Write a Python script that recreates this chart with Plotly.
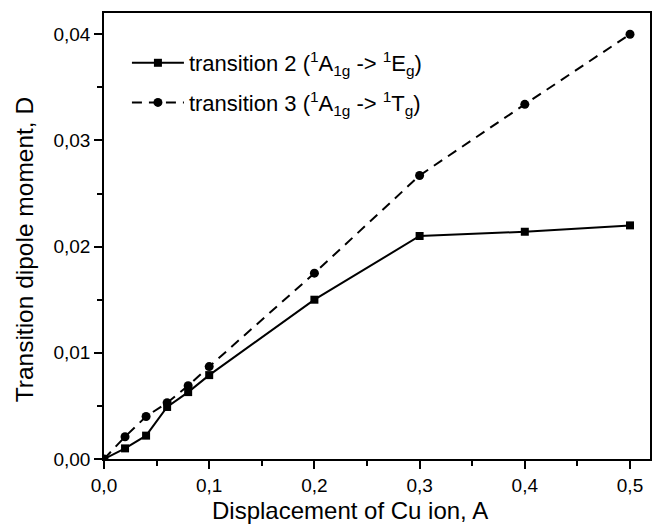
import plotly.graph_objects as go

x_vals = [0.0, 0.02, 0.04, 0.06, 0.08, 0.1, 0.2, 0.3, 0.4, 0.5]
t2_vals = [0.0, 0.0010, 0.0022, 0.0049, 0.0063, 0.0079, 0.0150, 0.0210, 0.0214, 0.0220]
t3_vals = [0.0, 0.0021, 0.0040, 0.0053, 0.0069, 0.0087, 0.0175, 0.0267, 0.0334, 0.0400]

name2 = "transition 2 (<sup>1</sup>A<sub>1g</sub> -> <sup>1</sup>E<sub>g</sub>)"
name3 = "transition 3 (<sup>1</sup>A<sub>1g</sub> -> <sup>1</sup>T<sub>g</sub>)"

FONT = "Liberation Sans, Arial"

fig = go.Figure()
fig.add_trace(go.Scatter(x=x_vals, y=t2_vals, mode="lines+markers", name=name2,
                         legendgroup="a",
                         line=dict(color="black", width=2),
                         marker=dict(symbol="square", size=8, color="black")))
fig.add_trace(go.Scatter(x=x_vals, y=t3_vals, mode="lines+markers", name=name3,
                         legendgroup="b",
                         line=dict(color="black", width=2, dash="10px,7px"),
                         marker=dict(symbol="circle", size=9, color="black")))

axis_common = dict(showline=True, linecolor="black", linewidth=1.6, mirror=True,
                   ticks="outside", tickcolor="black", tickwidth=1.5, ticklen=8,
                   showgrid=False, zeroline=False,
                   tickfont=dict(family=FONT, size=19, color="black"))

fig.update_xaxes(range=[0, 0.519], tick0=0, dtick=0.1, tickformat=".1f",
                 minor=dict(ticks="outside", dtick=0.05, ticklen=5, tickcolor="black", tickwidth=1.5),
                 **axis_common)
fig.update_yaxes(range=[0, 0.042], tick0=0, dtick=0.01, tickformat=".2f",
                 minor=dict(ticks="outside", dtick=0.005, ticklen=5, tickcolor="black", tickwidth=1.5),
                 **axis_common)

fig.add_annotation(text="Displacement of Cu ion, A", xref="paper", yref="paper",
                   x=(351 - 104) / 548, y=-(511 - 459) / 446, xanchor="center", yanchor="middle",
                   showarrow=False, font=dict(family=FONT, size=24, color="black"))
fig.add_annotation(text="Transition dipole moment, D", xref="paper", yref="paper",
                   x=-(104 - 24) / 548, y=(459 - 250) / 446, xanchor="center", yanchor="middle",
                   textangle=-90,
                   showarrow=False, font=dict(family=FONT, size=24.5, color="black"))

fig.update_layout(width=654, height=526, separators=",.",
                  margin=dict(l=104, r=2, t=13, b=67),
                  plot_bgcolor="white", paper_bgcolor="white",
                  showlegend=True,
                  legend=dict(x=0.042, y=0.935, xanchor="left", yanchor="top",
                              bgcolor="rgba(0,0,0,0)", itemwidth=52,
                              traceorder="grouped", tracegroupgap=8,
                              font=dict(family=FONT, size=22, color="black")),
                  )

fig.write_html("out.html")
